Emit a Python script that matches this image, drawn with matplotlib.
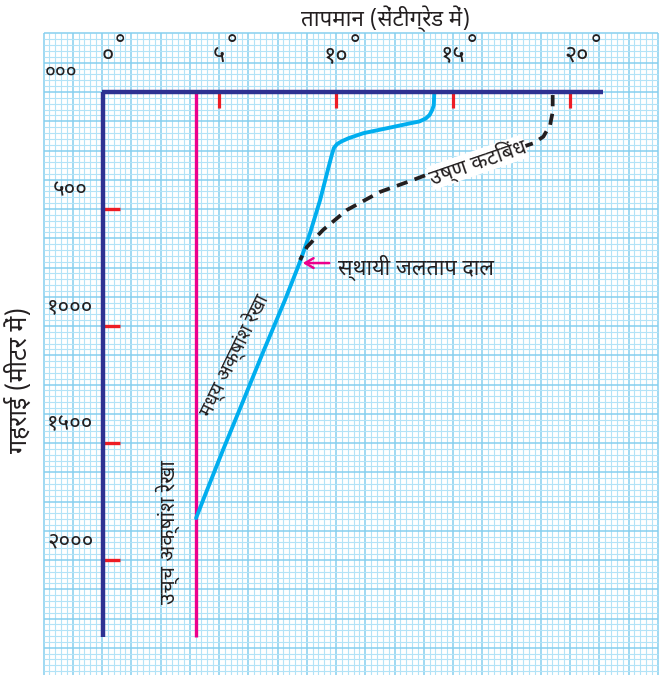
import matplotlib
matplotlib.use("AGG")
import matplotlib.pyplot as plt
import numpy as np
from matplotlib import font_manager
from matplotlib.ft2font import FT2Font

# pick an installed font that has Devanagari glyphs (prefer sans families)
found = []
for f in font_manager.fontManager.ttflist:
    try:
        if 0x0915 in FT2Font(f.fname).get_charmap():
            found.append(f.name)
    except Exception:
        pass
deva = None
for pref in ['Noto Sans Devanagari', 'Mukta', 'Lohit Devanagari', 'FreeSans']:
    if pref in found:
        deva = pref
        break
if deva is None and found:
    deva = found[0]
plt.rcParams['font.family'] = [deva, 'DejaVu Sans'] if deva else ['DejaVu Sans']

# data (temperature in deg C, depth in m)
temp_ticks = [5, 10, 15, 20]
temp_labels = ['०', '५', '१०', '१५', '२०']
temp_label_pos = [0.25, 5, 10, 15, 20.3]
depth_ticks = [500, 1000, 1500, 2000]
depth_labels = ['५००', '१०००', '१५००', '२०००']

high_lat_temp = 4.0
high_lat_depth = 2329

mid_temp = [14.20, 14.18, 14.11, 14.00, 13.84, 13.56, 13.16, 12.17, 11.17, 10.55,
            10.26, 10.05, 9.91, 9.82, 9.67, 9.32, 8.89, 8.46,
            7.82, 6.92, 6.05, 5.17, 4.32, 4.02]
mid_depth = [0, 56, 77, 98, 113, 126, 134, 155, 176, 197,
             210, 222, 239, 269, 326, 462, 603, 726,
             889, 1103, 1316, 1530, 1744, 1821]

trop_temp = [19.26, 19.26, 19.15, 18.86, 18.43, 18.0, 16.15, 14.74, 13.29,
             11.88, 10.47, 9.44, 8.76, 8.46]
trop_depth = [13, 85, 141, 191, 219, 234, 282, 321, 376,
              427, 504, 590, 662, 718]

thermocline_temp = 8.46
thermocline_depth = 731

ink = '#231f20'

# figure: axes fill the whole canvas, pixel mapping 23.4 px/deg, 0.234 px/m
fig = plt.figure(figsize=(6.64, 6.75), dpi=100)
ax = fig.add_axes([0, 0, 1, 1])
ax.set_xlim(-102 / 23.4, (664 - 102) / 23.4)
ax.set_ylim((675 - 92) / 0.234, -92 / 0.234)
ax.axis('off')

# graph paper
gx0, gx1 = -2.5, 23.75
gy0, gy1 = -250, 2500
for i, x in enumerate(np.arange(gx0, gx1 + 0.01, 0.25)):
    strong = (i % 5 == 0)
    ax.plot([x, x], [gy0, gy1], color='#86cfef' if strong else '#b3e3f7',
            lw=1.1 if strong else 0.8, zorder=1, solid_capstyle='butt')
for i, y in enumerate(np.arange(gy0, gy1 + 1, 25)):
    strong = (i % 5 == 0)
    ax.plot([gx0, gx1], [y, y], color='#86cfef' if strong else '#b3e3f7',
            lw=1.1 if strong else 0.8, zorder=1, solid_capstyle='butt')

# axes lines
navy = '#2e3192'
ax.plot([0.06, 0.06], [0, 2329], color=navy, lw=3.2, zorder=5, solid_capstyle='butt')
ax.plot([0.0, 21.4], [0, 0], color=navy, lw=3.2, zorder=5, solid_capstyle='butt')

# red ticks
for t in temp_ticks:
    ax.plot([t, t], [0, 68], color='#ed1c24', lw=2.3, zorder=4, solid_capstyle='butt')
for d in depth_ticks:
    ax.plot([0.1, 0.77], [d, d], color='#ed1c24', lw=2.4, zorder=4, solid_capstyle='butt')

# high-latitude line
ax.plot([high_lat_temp, high_lat_temp], [0, high_lat_depth], color='#ec008c',
        lw=2.4, zorder=3, solid_capstyle='butt')

# mid-latitude curve
ax.plot(mid_temp, mid_depth, color='#00aeef', lw=2.8, zorder=3,
        solid_joinstyle='round', solid_capstyle='round')

# tropical curve
ax.plot(trop_temp, trop_depth, color=ink, lw=2.7, zorder=3,
        linestyle=(0, (3.0, 2.0)))

# titles
ax.text((386 - 102) / 23.4, (19 - 92) / 0.234, 'तापमान (सेंटीग्रेड में)',
        ha='center', va='center', fontsize=16, color=ink)
ax.text((19 - 102) / 23.4, (380 - 92) / 0.234, 'गहराई (मीटर में)',
        ha='center', va='center', fontsize=18, rotation=90, color=ink)

# tick labels
for t, lab in zip(temp_label_pos, temp_labels):
    txt = ax.text(t, -155, lab, ha='center', va='center', fontsize=17, color=ink)
    ax.annotate('°', xy=(1.0, 0.9), xycoords=txt, ha='left', va='center',
                fontsize=18, color=ink, family='DejaVu Sans')
ax.text(-1.75, -85, '०००', ha='center', va='center', fontsize=15, color=ink)
for d, lab in zip(depth_ticks, depth_labels):
    ax.text(-1.35, d - 78, lab, ha='center', va='center', fontsize=16, color=ink)

# curve labels
ax.text(2.82, 1880, 'उच्च अक्षांश रेखा', ha='center', va='center', fontsize=15,
        rotation=90, color=ink, zorder=6)
ax.text(5.65, 1124, 'मध्य अक्षांश रेखा', ha='center', va='center', fontsize=14,
        rotation=64, color=ink, zorder=6)
ax.text(16.05, 300, 'उष्ण कटिबंध', ha='center', va='center', fontsize=15,
        rotation=19, color=ink, zorder=6,
        bbox=dict(boxstyle='square,pad=0.0', fc='white', ec='none'))

# thermocline arrow
ax.annotate('', xy=(thermocline_temp, thermocline_depth),
            xytext=(9.83, thermocline_depth),
            arrowprops=dict(arrowstyle='->,head_length=0.6,head_width=0.35',
                            color='#ec008c', lw=1.8), zorder=6)
ax.text(10.09, 752, 'स्थायी जलताप दाल', ha='left', va='center', fontsize=15.5,
        color=ink, zorder=6)

fig.savefig('out.png', dpi=100)
